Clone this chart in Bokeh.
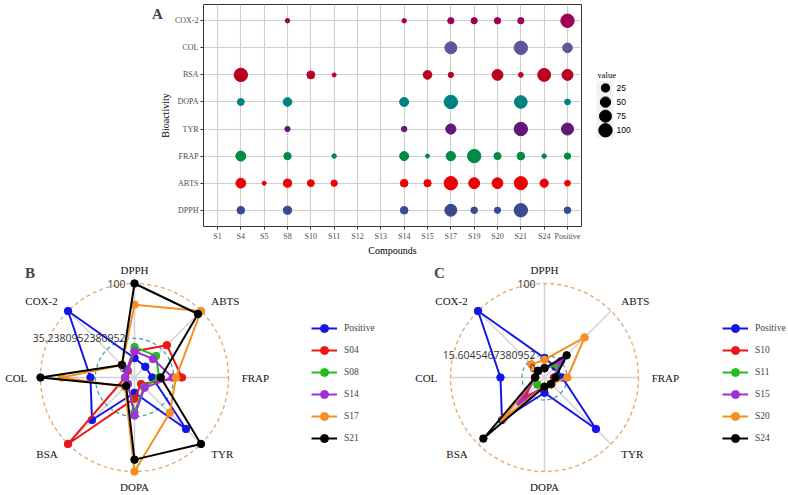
import numpy as np
from bokeh.plotting import figure
from bokeh.models import Range1d, FixedTicker, Legend, LegendItem, ColumnDataSource, Label
from bokeh.layouts import row, column
from bokeh.embed import file_html
from bokeh.resources import INLINE
from bokeh.core.properties import value

# ---------------- data ----------------
compounds = ["S1", "S4", "S5", "S8", "S10", "S11", "S12", "S13", "S14", "S15",
             "S17", "S19", "S20", "S21", "S24", "Positive"]
activities = ["DPPH", "ABTS", "FRAP", "TYR", "DOPA", "BSA", "COL", "COX-2"]

#        S1  S4  S5 S8 S10 S11 S12 S13 S14 S15 S17 S19 S20 S21 S24 Pos
dpph = [0, 20, 0, 25, 0, 0, 0, 0, 20, 0, 75, 12, 10, 100, 0, 12]
abts = [0, 43, 1, 25, 14, 10, 0, 0, 20, 17, 100, 58, 56, 95, 26, 7]
frap = [0, 45, 0, 18, 0, 2, 0, 0, 34, 1, 38, 100, 16, 20, 2, 10]
tyr = [0, 0, 0, 5, 0, 0, 0, 0, 6, 0, 48, 0, 0, 100, 0, 75]
dopa = [0, 14, 0, 30, 0, 0, 0, 0, 34, 0, 100, 0, 0, 86, 0, 7]
bsa = [0, 100, 0, 0, 22, 1, 0, 0, 0, 30, 5, 0, 58, 3, 91, 60]
col = [0, 0, 0, 0, 0, 0, 0, 0, 0, 0, 75, 0, 0, 100, 0, 41]
cox2 = [0, 0, 0, 2, 0, 0, 0, 0, 2, 0, 10, 10, 11, 10, 0, 100]
activity_values = [dpph, abts, frap, tyr, dopa, bsa, col, cox2]

activity_colors = ["#3B4992", "#EE0000", "#008B45", "#631879",
                   "#008280", "#BB0021", "#5F559B", "#A20056"]
size_legend_values = [25, 50, 75, 100]

radar_B_names = ["Positive", "S04", "S08", "S14", "S17", "S21"]
radar_C_names = ["Positive", "S10", "S11", "S15", "S20", "S24"]
radar_colors = ["#1515E8", "#EE1515", "#22BB22", "#A030D8", "#F5901E", "#000000"]
radar_B_ticks = [0, 35.2380952380952, 100]
radar_B_ticklabels = ["0", "35.2380952380952", "100"]
radar_C_ticks = [0, 15.6045467380952, 100]
radar_C_ticklabels = ["0", "15.6045467380952", "100"]

SERIF = "Liberation Serif"


def bubble_size(v):
    return 3 + 10.4 * np.sqrt(v / 100.0)


def compound_values(name):
    key = name
    if name.startswith("S") and name[1:].isdigit():
        key = "S" + str(int(name[1:]))
    i = compounds.index(key)
    return [vals[i] for vals in activity_values]


# ---------------- panel A: bubble chart ----------------
xs, ys, sz, cl = [], [], [], []
for j, vals in enumerate(activity_values):
    for i, v in enumerate(vals):
        if v > 0:
            xs.append(i)
            ys.append(j)
            sz.append(bubble_size(v))
            cl.append(activity_colors[j])
src = ColumnDataSource(dict(x=xs, y=ys, size=sz, color=cl))

TOP_H = 258
FRAME_L, FRAME_R, FRAME_T = 203, 12, 4
A_W = 593
xr = Range1d(-0.6, len(compounds) - 0.4)
yr = Range1d(-0.6, len(activities) - 0.4)
pA = figure(width=A_W, height=TOP_H, x_range=xr, y_range=yr,
            output_backend="svg", toolbar_location=None,
            min_border_left=FRAME_L, min_border_right=FRAME_R, min_border_top=FRAME_T,
            min_border_bottom=30)
pA.scatter(x="x", y="y", size="size", fill_color="color", line_color="color", source=src)

pA.xaxis.ticker = FixedTicker(ticks=list(range(len(compounds))))
pA.xaxis.major_label_overrides = {i: c for i, c in enumerate(compounds)}
pA.yaxis.ticker = FixedTicker(ticks=list(range(len(activities))))
pA.yaxis.major_label_overrides = {i: a for i, a in enumerate(activities)}
pA.xgrid.ticker = FixedTicker(ticks=list(range(len(compounds))))
pA.ygrid.ticker = FixedTicker(ticks=list(range(len(activities))))
pA.grid.grid_line_color = "#cfcfcf"
pA.grid.grid_line_width = 1.2
pA.outline_line_color = "#333333"
pA.outline_line_width = 1
for ax in (pA.xaxis[0], pA.yaxis[0]):
    ax.axis_line_color = None
    ax.major_tick_line_color = "#333333"
    ax.major_tick_out = 3
    ax.major_tick_in = 0
    ax.minor_tick_line_color = None
    ax.major_label_text_font = SERIF
    ax.major_label_text_font_size = "8px"
    ax.major_label_text_color = "#4D4D4D"
    ax.major_label_standoff = 2
    ax.axis_label_text_font = SERIF
    ax.axis_label_text_font_size = "10px"
    ax.axis_label_text_font_style = "normal"
    ax.axis_label_text_color = "#000000"
    ax.axis_label_standoff = 1
pA.xaxis.axis_label = "Compounds"
pA.yaxis.axis_label = "Bioactivity"

# panel letter "A" (left of the frame, placed in a side panel so it is not clipped)
px_per_x = (A_W - FRAME_L - FRAME_R) / (xr.end - xr.start)
px_per_y = (TOP_H - FRAME_T - 30) / (yr.end - yr.start)
pA.add_layout(Label(x=xr.start - 46 / px_per_x, y=yr.end - 10 / px_per_y, text="A",
                    text_align="center", text_baseline="middle", text_font=SERIF,
                    text_font_size="15px", text_font_style="bold"), "left")

# size legend (figure placed right of panel A, coordinates in pixels)
pL = figure(width=788 - A_W, height=TOP_H, x_range=Range1d(0, 788 - A_W), y_range=Range1d(TOP_H, 0),
            x_axis_type=None, y_axis_type=None, output_backend="svg", toolbar_location=None,
            min_border_left=0, min_border_right=0, min_border_top=0, min_border_bottom=0)
pL.outline_line_color = None
pL.grid.visible = False
pL.text(x=[4], y=[82], text=["value"], text_font=value(SERIF), text_font_size="8.5px",
        text_baseline="middle", text_align="left", text_color="#000000")
pL.rect(x=[11.5], y=[122], width=17, height=66, fill_color="#F2F2F2", line_color=None)
ly = [97 + 16.4 * k for k in range(len(size_legend_values))]
pL.scatter(x=[12] * len(size_legend_values), y=ly,
           size=[bubble_size(v) for v in size_legend_values], color="#000000")
pL.text(x=[23] * len(size_legend_values), y=ly, text=[str(v) for v in size_legend_values],
        text_font=value("Liberation Sans"), text_font_size="8.5px", text_baseline="middle",
        text_align="left", text_color="#000000")


# ---------------- panels B and C: radar charts ----------------
BOT_H = 495 - TOP_H


def radar(names, ticks, ticklabels, panel, fig_width, cx_px, legend_x, panel_x):
    s = 94.0
    H = BOT_H
    cy_top = 119
    x0 = -cx_px / s
    y1 = cy_top / s
    p = figure(width=fig_width, height=H,
               x_range=Range1d(x0, (fig_width - cx_px) / s),
               y_range=Range1d(-(H - cy_top) / s, y1),
               x_axis_type=None, y_axis_type=None, output_backend="svg",
               toolbar_location=None, min_border_left=0, min_border_right=0,
               min_border_top=0, min_border_bottom=0)
    p.outline_line_color = None
    p.grid.visible = False
    vmin = -11.0

    def rad(v):
        return (v - vmin) / (100.0 - vmin)

    n = len(activities)
    th = [np.pi / 2 - k * 2 * np.pi / n for k in range(n)]
    cos = [np.cos(t) for t in th]
    sin = [np.sin(t) for t in th]
    p.segment(x0=[0] * n, y0=[0] * n, x1=cos, y1=sin, line_color="#d2d2d2", line_width=1.5)
    p.circle(x=[0], y=[0], radius=[1.0], fill_color=None, line_color="#E2A86C",
             line_dash="4 3", line_width=1.3)
    p.circle(x=[0], y=[0], radius=[rad(ticks[1])], fill_color=None, line_color="#3F9AA3",
             line_dash="4 3", line_width=1.2)

    items = []
    for name, color in zip(names, radar_colors):
        vals = compound_values(name)
        r = [rad(v) for v in vals]
        px = [ri * c for ri, c in zip(r, cos)]
        py = [ri * s_ for ri, s_ in zip(r, sin)]
        lr = p.line(px + [px[0]], py + [py[0]], line_color=color, line_width=2)
        sr = p.scatter(px, py, size=7.5, color=color)
        items.append(LegendItem(label=name, renderers=[lr, sr]))

    # angular labels
    groups = {"left": ([], [], []), "right": ([], [], []), "center": ([], [], [])}
    for a, c, s_ in zip(activities, cos, sin):
        if abs(c) < 0.1:
            rr, al = (1.14 if s_ > 0 else 1.17), "center"
        elif abs(s_) < 0.1:
            rr, al = 1.14, ("left" if c > 0 else "right")
        else:
            rr, al = 1.155, ("left" if c > 0 else "right")
        g = groups[al]
        g[0].append(rr * c)
        g[1].append(rr * s_)
        g[2].append(a)
    for al, (gx, gy, gt) in groups.items():
        if gt:
            p.text(x=gx, y=gy, text=gt, text_align=al, text_baseline="middle",
                   text_font=value(SERIF), text_font_size="11px", text_color="#111111")

    # radial tick labels
    p.text(x=[0] * len(ticks), y=[rad(t) for t in ticks], text=ticklabels,
           text_align="right", text_baseline="middle", x_offset=-9,
           text_font=value("Open Sans"), text_font_size="10.5px", text_color="#333333")

    legend = Legend(items=items, location=(legend_x, 47), orientation="vertical",
                    glyph_width=26, glyph_height=20, label_height=20, spacing=2,
                    padding=0, margin=0, border_line_color=None, background_fill_alpha=0,
                    label_standoff=7, label_text_font=SERIF, label_text_font_size="9.5px")
    p.add_layout(legend)

    p.add_layout(Label(x=x0 + panel_x / s, y=y1 - 14.5 / s, text=panel, text_align="center",
                       text_baseline="middle", text_font=SERIF, text_font_size="15px",
                       text_font_style="bold"))
    return p


pB = radar(radar_B_names, radar_B_ticks, radar_B_ticklabels, "B", 400, 134, 311, 29.5)
pC = radar(radar_C_names, radar_C_ticks, radar_C_ticklabels, "C", 388, 144, 322, 39)

layout = column(row(pA, pL), row(pB, pC))
open("out.html", "w").write(file_html(layout, INLINE))
